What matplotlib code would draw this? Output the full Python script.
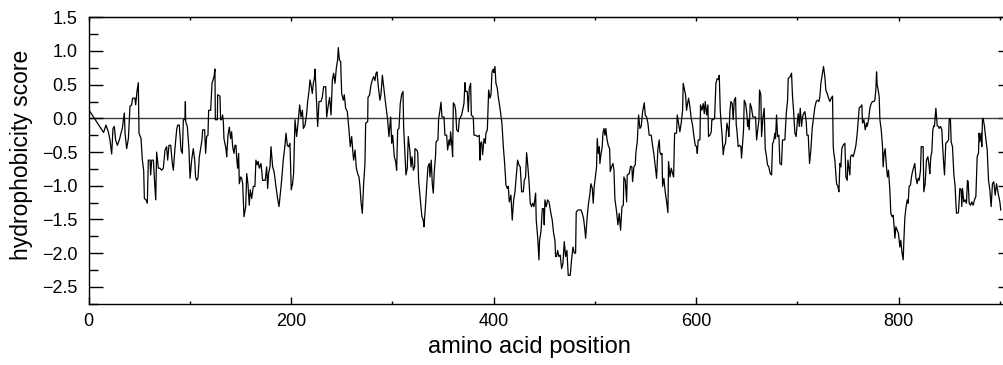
import numpy as np
import matplotlib
matplotlib.use("Agg")
import matplotlib.pyplot as plt
from matplotlib.ticker import MultipleLocator, FuncFormatter

plt.rcParams['font.family'] = ['Liberation Sans', 'DejaVu Sans']

# hydrophobicity profile, read in stretches along the sequence
pos_a = [1.2, 14.6, 17.0, 19.3, 20.9, 22.6, 23.9, 25.2, 26.5, 28.2,
         30.2, 31.8, 33.1, 35.1, 35.8, 37.4, 39.1, 40.7, 42.3, 43.3,
         45.6, 46.3, 47.6, 48.9, 49.6, 51.6, 52.9, 54.2, 54.9, 56.5,
         57.8, 58.8, 60.5, 61.1, 62.1, 63.8, 64.7, 66.1, 67.0, 68.7,
         70.3, 72.0, 73.6, 75.3, 76.9, 77.9, 79.2, 80.9, 82.5, 83.5,
         85.1, 86.8, 87.8, 89.4, 91.1, 92.4, 93.4, 95.0, 95.4, 95.7,
         97.3, 98.9]
score_a = [0.10, -0.21, -0.10, -0.20, -0.32, -0.53, -0.15, -0.12, -0.32, -0.40,
           -0.32, -0.22, -0.15, 0.08, -0.22, -0.45, -0.30, 0.18, 0.20, 0.30,
           0.30, 0.20, 0.40, 0.53, -0.22, -0.30, -0.62, -0.77, -1.19, -1.21,
           -1.26, -0.62, -0.62, -0.84, -0.62, -0.62, -0.87, -1.21, -0.50, -0.74,
           -0.74, -0.77, -0.74, -0.47, -0.42, -0.62, -0.40, -0.40, -0.67, -0.77,
           -0.45, -0.17, -0.10, -0.10, -0.47, -0.52, -0.02, -0.02, 0.25, -0.05,
           -0.12, -0.45]

pos_b = [100.0, 101.6, 103.2, 104.6, 105.5, 106.5, 107.8, 109.2, 110.5, 111.8,
         112.5, 114.4, 115.4, 116.4, 117.7, 118.4, 120.4, 121.7, 123.7, 124.6,
         125.0, 127.0, 127.3, 129.6, 130.2, 131.2, 132.2, 132.9, 133.5, 135.5,
         136.2, 137.5, 138.8, 140.1, 141.1, 142.1, 143.4, 144.4, 145.4, 146.0,
         147.0, 148.0, 148.7, 150.0, 151.0, 152.0, 153.3, 155.0, 156.0, 157.2,
         158.5, 159.5, 160.9, 162.5, 164.1, 165.1, 166.5, 167.4, 168.4, 170.1,
         171.7, 173.0, 174.3, 175.7, 176.7, 177.6, 179.0, 180.0, 181.6, 183.0,
         184.9, 186.2, 187.9, 190.5, 192.1, 193.8, 194.8, 196.1, 197.4, 198.7,
         200.0, 201.3, 202.3]
score_b = [-0.89, -0.62, -0.45, -0.62, -0.87, -0.92, -0.89, -0.57, -0.45, -0.32,
           -0.17, -0.17, -0.52, -0.27, -0.25, 0.12, 0.12, 0.52, 0.62, 0.73,
           -0.02, -0.02, 0.35, 0.33, -0.02, -0.02, 0.05, -0.05, -0.30, -0.45,
           -0.57, -0.25, -0.13, -0.30, -0.20, -0.42, -0.52, -0.40, -0.40, -0.57,
           -0.74, -0.52, -0.97, -0.87, -0.89, -0.97, -1.46, -1.31, -0.82, -0.97,
           -1.29, -1.06, -1.19, -1.01, -1.01, -0.62, -0.69, -0.64, -0.74, -0.67,
           -0.92, -0.92, -0.92, -0.72, -1.04, -0.82, -0.72, -0.42, -0.72, -0.79,
           -1.01, -1.16, -1.31, -0.92, -0.62, -0.40, -0.22, -0.40, -0.42, -0.37,
           -1.06, -0.97, -0.82]

pos_c = [203.7, 205.3, 207.0, 208.3, 209.6, 211.0, 212.0, 213.6, 215.2, 216.2,
         217.5, 218.5, 219.5, 220.8, 221.8, 222.8, 223.5, 225.1, 226.1, 227.4,
         229.4, 230.7, 232.0, 234.0, 235.0, 236.6, 237.9, 239.3, 240.6, 241.9,
         243.2, 244.5, 245.8, 246.5, 247.5, 248.8, 249.8, 251.4, 252.4, 253.7,
         255.4, 257.0, 258.3, 259.7, 260.7, 261.6, 263.0, 264.3, 265.6, 266.9,
         267.9, 268.9, 270.2, 271.5, 272.8, 273.5, 275.5, 275.8, 277.4, 278.8,
         280.1, 281.4, 282.7, 283.7, 284.7, 286.0, 287.6, 288.6, 290.0, 291.3,
         293.2, 295.2, 296.5, 298.2, 299.2, 300.2, 301.8, 303.1, 304.1, 305.1,
         306.4, 307.7, 309.0, 310.4, 311.0]
score_c = [-0.02, -0.27, -0.02, 0.20, 0.02, 0.12, -0.15, -0.10, 0.07, 0.25,
           0.40, 0.57, 0.50, 0.37, 0.52, 0.59, 0.73, 0.22, -0.12, 0.25,
           0.25, 0.32, 0.47, 0.47, 0.02, 0.20, 0.31, 0.05, 0.57, 0.67,
           0.52, 0.74, 0.87, 1.05, 0.87, 0.84, 0.37, 0.27, 0.35, 0.15,
           0.10, -0.17, -0.42, -0.27, -0.47, -0.62, -0.47, -0.74, -0.82, -0.87,
           -1.01, -1.24, -1.41, -0.97, -0.67, -0.07, -0.05, 0.31, 0.35, 0.50,
           0.57, 0.62, 0.56, 0.67, 0.69, 0.47, 0.27, 0.35, 0.64, 0.47,
           0.22, -0.02, -0.27, 0.02, -0.37, -0.25, -0.57, -0.64, -0.77, -0.17,
           -0.15, 0.22, 0.35, 0.40, -0.12]

pos_d = [313.3, 314.6, 315.6, 317.3, 318.3, 319.3, 320.6, 321.9, 322.2, 323.9,
         324.9, 325.8, 327.2, 328.1, 329.1, 330.4, 331.1, 332.4, 333.7, 335.0,
         336.4, 337.0, 338.3, 339.3, 340.3, 341.3, 342.6, 343.0, 344.9, 345.6,
         346.9, 347.9, 348.9, 350.9, 351.8, 353.5, 354.5, 355.8, 356.8, 357.4,
         358.8, 359.4, 360.1, 361.4, 362.4, 363.4, 365.0, 366.0, 367.3, 368.3,
         369.3, 370.6, 371.6, 372.3, 373.9, 374.9, 375.9, 377.2, 377.9, 379.8,
         380.5, 382.1, 384.1, 385.7, 386.4, 387.0, 388.0, 389.0, 390.4, 391.7,
         392.3, 393.7, 395.0, 396.3, 397.3, 398.3, 399.6, 400.2, 401.2, 402.2,
         403.5, 404.5, 406.2, 408.1, 409.5, 410.8, 412.1, 413.4, 414.4, 415.4]
score_d = [-0.84, -0.74, -0.27, -0.50, -0.72, -0.57, -0.77, -0.72, -0.45, -0.47,
           -0.50, -0.92, -1.16, -1.31, -1.46, -1.51, -1.61, -1.34, -1.04, -0.72,
           -0.67, -0.87, -0.62, -0.97, -1.11, -0.79, -0.54, -0.35, -0.32, 0.00,
           0.12, 0.24, 0.02, 0.02, -0.25, -0.25, -0.47, -0.32, -0.40, -0.20,
           -0.42, -0.57, 0.23, 0.20, 0.12, -0.17, -0.20, -0.02, 0.02, 0.05,
           0.12, 0.22, 0.53, 0.40, 0.40, 0.10, 0.45, 0.52, 0.05, 0.02,
           -0.25, -0.25, -0.27, -0.25, -0.62, -0.37, -0.35, -0.54, -0.30, -0.37,
           -0.22, -0.17, 0.42, 0.30, 0.35, 0.69, 0.73, 0.68, 0.77, 0.52,
           0.45, 0.32, 0.15, -0.07, -0.42, -0.67, -0.99, -1.04, -1.01, -1.24]

pos_e = [417.0, 418.3, 419.7, 421.0, 422.6, 423.6, 424.9, 426.2, 427.6, 429.2,
         430.2, 431.5, 432.5, 433.5, 434.8, 436.1, 437.4, 438.4, 439.7, 441.4,
         442.0, 443.4, 444.7, 445.3, 446.7, 448.0, 449.3, 449.9, 450.6, 451.9,
         453.2, 454.6, 456.5, 457.8, 459.2, 460.5, 461.1, 462.1, 463.1, 464.4,
         465.7, 467.1, 468.4, 469.7, 471.0, 472.3, 473.6, 475.6, 476.9, 478.3,
         479.6, 480.9, 481.5, 483.5, 486.2, 487.5, 488.8, 490.1, 490.8, 492.1,
         493.4, 495.1, 496.0, 497.4, 498.3, 499.3, 500.6, 501.6, 502.3, 503.3,
         504.3, 504.9, 505.9, 507.2, 507.9, 508.9, 509.9, 510.8, 511.8, 513.1,
         514.5, 515.1, 516.4, 517.8]
score_e = [-1.14, -1.51, -1.21, -1.09, -0.79, -0.62, -0.69, -0.72, -1.09, -1.09,
           -0.92, -0.87, -0.51, -0.67, -0.92, -1.26, -1.31, -1.26, -1.31, -1.11,
           -1.51, -1.76, -2.10, -1.81, -1.68, -1.34, -1.34, -1.58, -1.21, -1.31,
           -1.21, -1.24, -1.41, -1.51, -1.71, -1.81, -2.05, -2.05, -1.96, -2.05,
           -2.03, -2.23, -2.15, -1.83, -2.05, -1.96, -2.33, -2.33, -2.10, -1.91,
           -2.00, -2.00, -1.39, -1.36, -1.36, -1.41, -1.49, -1.66, -1.78, -1.51,
           -1.29, -1.11, -0.97, -1.04, -1.26, -1.01, -0.84, -0.72, -0.30, -0.52,
           -0.42, -0.67, -0.54, -0.42, -0.22, -0.15, -0.25, -0.15, -0.30, -0.40,
           -0.45, -0.79, -0.72, -0.67]

pos_f = [518.8, 519.7, 521.4, 522.7, 524.0, 525.3, 526.7, 528.0, 528.6, 530.0,
         531.3, 531.9, 533.9, 535.2, 536.5, 537.2, 538.5, 539.8, 540.5, 541.8,
         543.1, 544.4, 545.7, 547.1, 548.7, 549.7, 551.0, 552.3, 553.6, 555.6,
         556.9, 558.3, 559.6, 560.9, 562.2, 563.5, 564.2, 565.2, 566.2, 566.8,
         568.1, 569.4, 570.8, 572.1, 572.7, 574.1, 575.4, 576.7, 577.7, 578.7,
         580.6, 581.3, 582.6, 583.9, 585.2, 586.6, 587.2, 588.5, 589.5, 590.5,
         591.5, 592.5, 593.8, 595.1, 596.4, 597.8, 599.1, 600.4, 601.1, 602.0,
         603.7, 604.3, 605.7, 607.0, 608.0, 609.0, 610.3, 611.6, 612.2, 613.6,
         614.9, 615.5, 616.8, 618.2, 619.5, 620.8, 622.1, 622.8]
score_f = [-0.77, -1.19, -1.39, -1.58, -1.41, -1.66, -1.31, -1.29, -0.87, -0.92,
           -1.24, -0.84, -0.82, -0.71, -0.72, -0.94, -0.72, -0.69, -0.50, -0.35,
           0.05, -0.15, -0.12, 0.10, 0.23, 0.05, 0.02, -0.07, -0.25, -0.25,
           -0.40, -0.54, -0.72, -0.89, -0.45, -0.32, -0.50, -0.54, -0.52, -1.01,
           -0.89, -1.09, -1.24, -1.40, -0.64, -0.87, -0.74, -0.82, -0.87, -0.22,
           -0.22, 0.05, -0.07, -0.20, -0.07, 0.12, 0.52, 0.42, 0.35, 0.12,
           0.22, 0.30, 0.17, 0.00, -0.10, -0.27, -0.40, -0.42, -0.52, -0.32,
           -0.32, 0.20, 0.12, 0.22, 0.07, 0.25, 0.05, 0.20, -0.27, -0.25,
           -0.20, -0.02, -0.02, 0.00, 0.52, 0.59, 0.58, 0.64]

pos_g = [623.8, 624.4, 625.7, 626.7, 627.7, 629.0, 630.4, 631.7, 632.3, 633.3,
         634.3, 635.6, 636.6, 637.6, 638.9, 639.6, 640.2, 641.5, 642.9, 644.2,
         644.8, 645.8, 646.8, 647.5, 648.8, 650.1, 650.8, 651.4, 652.4, 653.4,
         654.7, 656.0, 657.3, 658.7, 659.7, 660.6, 662.0, 662.6, 663.9, 664.6,
         665.9, 667.2, 668.2, 669.5, 670.5, 671.8, 673.1, 674.5, 675.5, 676.4,
         677.8, 678.4, 679.4, 680.4, 681.7, 682.7, 684.3, 685.3, 687.6, 689.0,
         690.3, 690.9, 692.9, 694.2, 695.2, 696.2, 697.5, 698.8, 699.8, 700.8,
         701.8, 702.8, 704.1, 705.1, 706.1, 707.4, 708.7, 709.4, 710.7, 712.0,
         713.3, 714.6, 715.9, 717.3, 718.6, 719.9, 721.2, 722.2, 723.2, 724.5,
         725.8]
score_g = [0.12, -0.02, -0.27, -0.54, -0.42, -0.37, -0.07, -0.17, -0.27, 0.10,
           0.25, 0.22, -0.02, 0.27, 0.31, -0.10, -0.17, -0.42, -0.40, -0.42,
           -0.59, -0.37, -0.17, 0.27, 0.22, 0.07, -0.12, -0.02, -0.17, 0.22,
           0.15, 0.02, 0.02, 0.02, -0.32, -0.20, -0.02, 0.42, 0.35, -0.27,
           0.00, 0.15, -0.45, -0.57, -0.69, -0.72, -0.82, -0.84, -0.37, -0.35,
           -0.22, -0.30, 0.05, -0.27, -0.25, -0.67, -0.69, -0.32, -0.32, 0.07,
           0.27, 0.59, 0.62, 0.67, 0.32, 0.12, -0.22, -0.27, -0.07, 0.07,
           -0.12, 0.15, -0.12, 0.02, 0.07, 0.10, -0.05, -0.25, -0.25, -0.67,
           -0.47, -0.15, 0.00, 0.17, 0.25, 0.27, 0.25, 0.32, 0.52, 0.64,
           0.77]

pos_h = [727.1, 728.1, 729.4, 730.8, 732.1, 733.4, 734.7, 735.4, 736.0, 737.0,
         738.0, 738.7, 740.0, 741.0, 742.0, 742.9, 743.9, 745.2, 746.9, 747.9,
         749.2, 749.9, 750.8, 751.8, 752.5, 753.8, 755.1, 756.4, 757.8, 759.1,
         760.1, 761.1, 762.4, 763.7, 764.3, 765.7, 767.0, 768.3, 768.9, 770.3,
         771.6, 772.9, 774.2, 775.5, 776.5, 777.5, 778.2, 778.8, 779.8, 780.8,
         781.5, 782.8, 784.1, 784.7, 785.7, 786.7, 788.0, 789.0, 790.0, 791.3,
         792.3, 793.6, 794.6, 795.6, 796.3, 797.3, 798.6, 799.9, 801.2, 802.2,
         803.2, 804.5, 805.2, 806.1, 807.1, 808.5, 809.4, 810.4, 811.7, 812.7,
         813.7, 815.0, 816.0, 817.0, 818.3, 819.3, 820.3, 821.6]
score_h = [0.62, 0.42, 0.37, 0.30, 0.25, 0.30, 0.33, -0.42, -0.52, -0.62,
           -0.82, -0.97, -1.01, -1.09, -0.67, -0.72, -0.45, -0.40, -0.37, -0.87,
           -0.92, -0.62, -0.72, -0.84, -0.57, -0.54, -0.57, -0.50, -0.40, -0.22,
           -0.02, 0.16, 0.17, 0.20, -0.07, -0.02, -0.17, -0.07, -0.12, -0.02,
           0.15, 0.22, 0.25, 0.25, 0.27, 0.42, 0.69, 0.50, 0.42, 0.32,
           -0.02, -0.17, -0.42, -0.72, -0.52, -0.45, -0.72, -0.87, -0.77, -1.06,
           -1.41, -1.46, -1.44, -1.61, -1.78, -1.61, -1.66, -1.71, -1.91, -1.81,
           -1.98, -2.10, -1.81, -1.49, -1.34, -1.21, -1.26, -1.01, -0.99, -0.87,
           -0.79, -0.72, -0.67, -0.87, -0.97, -0.89, -0.92, -0.77]

pos_i = [822.3, 824.2, 824.9, 826.2, 827.5, 828.9, 830.2, 830.8, 831.8, 832.8,
         833.8, 834.8, 835.4, 836.8, 838.1, 839.4, 840.0, 841.4, 842.7, 843.3,
         844.3, 845.3, 846.6, 847.9, 849.3, 849.9, 850.6, 851.2, 851.9, 853.2,
         853.9, 854.5, 855.8, 856.5, 857.2, 859.1, 860.5, 861.8, 862.4, 863.1,
         864.4, 865.7, 867.0, 868.0, 868.7, 869.7, 871.0, 872.3, 873.6, 874.9,
         876.3, 877.6, 878.2, 878.9, 879.5, 880.2, 881.5, 882.2, 882.8, 883.5,
         884.8, 886.1, 887.5, 888.8, 890.1, 891.4, 892.7, 894.0, 895.4, 896.7,
         898.3, 900.0, 900.9]
score_i = [-0.42, -0.42, -1.09, -0.97, -0.62, -0.57, -0.72, -0.82, -0.57, -0.50,
           -0.17, -0.11, -0.12, 0.15, -0.11, -0.12, -0.15, -0.12, -0.17, -0.37,
           -0.62, -0.84, -0.37, -0.35, -0.32, -0.02, 0.00, -0.02, -0.35, -0.42,
           -0.62, -0.82, -1.01, -1.24, -1.41, -1.40, -1.04, -1.06, -1.31, -1.04,
           -1.24, -1.21, -1.26, -0.92, -0.94, -1.26, -1.29, -1.24, -1.29, -1.21,
           -1.16, -0.57, -0.54, -0.52, -0.22, -0.35, -0.22, -0.42, -0.02, 0.00,
           -0.12, -0.30, -0.47, -0.92, -1.06, -1.31, -0.97, -0.94, -1.14, -0.97,
           -1.11, -1.24, -1.36]

position = np.concatenate([pos_a, pos_b, pos_c, pos_d, pos_e, pos_f, pos_g, pos_h, pos_i])
score = np.concatenate([score_a, score_b, score_c, score_d, score_e, score_f, score_g, score_h, score_i])

x_major = [0, 200, 400, 600, 800]
x_minor = [100, 300, 500, 700, 900]

fig = plt.figure(figsize=(10.04, 3.65), dpi=100)
# the right frame sits just past the edge of the canvas
ax = fig.add_axes([88.5 / 1004, 60.7 / 365, 923.5 / 1004, 287.0 / 365])

ax.axhline(0, color='#3c3c3c', lw=1.0, zorder=1)
ax.plot(position, score, color='black', lw=0.9, zorder=2)

ax.set_xlim(-0.3, 912)
ax.set_ylim(-2.76, 1.5)

ax.set_xticks(x_major)
ax.set_xticks(x_minor, minor=True)
ax.yaxis.set_major_locator(MultipleLocator(0.5))
ax.yaxis.set_minor_locator(MultipleLocator(0.25))
# one decimal, with a wide minus sign
ax.yaxis.set_major_formatter(FuncFormatter(lambda v, p: f"{v:.1f}".replace('-', '\u2212')))

ax.tick_params(axis='y', which='major', direction='in', length=10, width=1, pad=8, labelsize=13)
ax.tick_params(axis='y', which='minor', direction='in', length=6.5, width=1)
ax.tick_params(axis='x', which='major', direction='in', length=5, width=1, pad=6, labelsize=13)
ax.tick_params(axis='x', which='minor', direction='in', length=2, width=1)

for s in ax.spines.values():
    s.set_linewidth(1.0)

top = ax.secondary_xaxis('top')
top.set_xticks(x_major)
top.set_xticks(x_minor, minor=True)
top.tick_params(which='major', direction='in', length=3, width=1, labeltop=False)
top.tick_params(which='minor', direction='in', length=2, width=1)

right = ax.secondary_yaxis('right')
right.yaxis.set_major_locator(MultipleLocator(0.5))
right.yaxis.set_minor_locator(MultipleLocator(0.25))
right.tick_params(which='major', direction='in', length=10, width=1, labelright=False)
right.tick_params(which='minor', direction='in', length=6.5, width=1)

ax.set_ylabel('hydrophobicity score', fontsize=16.5)
ax.yaxis.set_label_coords(-0.060, 0.52)
ax.set_xlabel('amino acid position', fontsize=17)
ax.xaxis.set_label_coords(0.478, -0.11)

fig.savefig('out.png', dpi=100)
